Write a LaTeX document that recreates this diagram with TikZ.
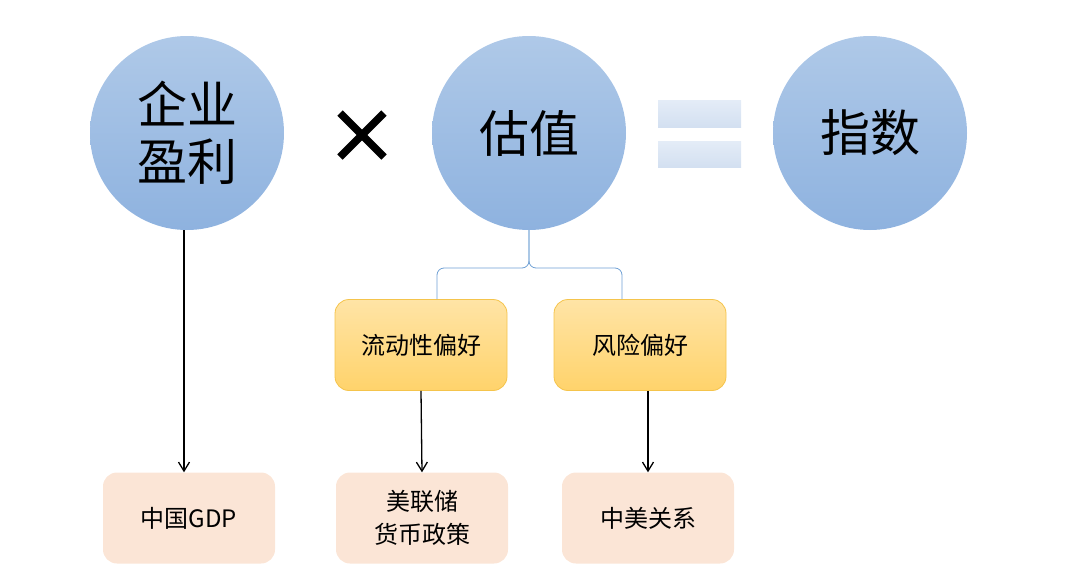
\documentclass[tikz,border=0pt]{standalone}
\usepackage{fontspec}
\setmainfont{Noto Sans CJK SC}
\usetikzlibrary{arrows.meta}

\definecolor{ballTop}{HTML}{AFC9E8}
\definecolor{ballBot}{HTML}{8EB2DF}
\definecolor{barTop}{HTML}{E4ECF7}
\definecolor{barBot}{HTML}{D3E0F1}
\definecolor{prefTop}{HTML}{FFE4A6}
\definecolor{prefBot}{HTML}{FFD36B}
\definecolor{prefLine}{HTML}{F5C44C}
\definecolor{factor}{HTML}{FBE5D6}
\definecolor{braceLine}{HTML}{6FA0D4}

\tikzset{
  ball/.style={circle, minimum size=194pt, inner sep=0pt, top color=ballTop, bottom color=ballBot,
    align=center, font=\fontsize{50}{57}\selectfont},
  pref/.style={rounded corners=14pt, minimum width=172pt, minimum height=91pt, draw=prefLine,
    line width=0.8pt, top color=prefTop, bottom color=prefBot, font=\fontsize{24}{33}\selectfont},
  factorbox/.style={rounded corners=14pt, minimum width=172pt, minimum height=91pt, fill=factor,
    align=center, font=\fontsize{24}{33}\selectfont},
  link/.style={line width=1.3pt, -{Straight Barb[length=9pt,width=11pt]}},
  fork/.style={draw=braceLine, line width=0.8pt, rounded corners=7pt}
}

\begin{document}
\begin{tikzpicture}[x=1pt, y=-1pt]
\useasboundingbox (0,0) rectangle (1080,587);

% top row
\node[ball] (profit) at (187,133) {企业\\盈利};
\node[ball] (value) at (529,133) {估值};
\node[ball] (index) at (870,133) {指数};

\draw[line width=7.5pt] (340,113) -- (384,157);
\draw[line width=7.5pt] (384,113) -- (340,157);

\shade[top color=barTop, bottom color=barBot] (658,100) rectangle (741,127);
\shade[top color=barTop, bottom color=barBot] (658,141) rectangle (741,167);

% valuation drivers
\node[pref] (liquid) at (421,345) {流动性偏好};
\node[pref] (risk) at (640,345) {风险偏好};

\coordinate (split) at (529,268);
\draw[fork] (value.south) -- (split) -| ([xshift=16pt]liquid.north);
\draw[fork] (value.south) -- (split) -| ([xshift=-18pt]risk.north);

% factors
\node[factorbox] (gdp) at (189,518) {中国GDP};
\node[factorbox] (fed) at (422,518) {美联储\\货币政策};
\node[factorbox] (sino) at (648,518) {中美关系};

\draw[link] ([xshift=-3pt]profit.south) -- ([xshift=-3pt]profit.south |- gdp.north);
\draw[link] (liquid.south) -- (fed.north);
\draw[link] (sino.north |- risk.south) -- (sino.north);

\end{tikzpicture}
\end{document}
